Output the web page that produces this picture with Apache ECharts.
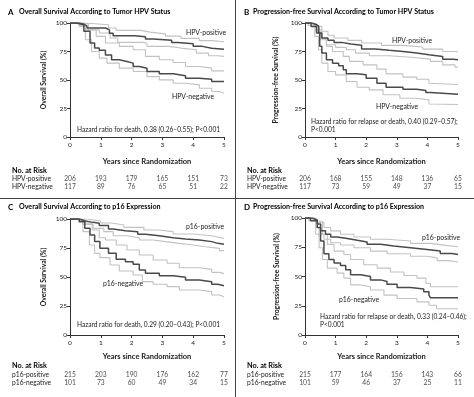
<!DOCTYPE html>
<html>
<head>
<meta charset="utf-8">
<script src="https://cdn.jsdelivr.net/npm/echarts@6/dist/echarts.min.js"></script>
<style>
  html, body { margin: 0; background: #fff; }
  #chart { width: 474px; height: 397px; }
</style>
</head>
<body>
<div id="chart"></div>
<script>
  // 坐标轴刻度
  const xTicks = [0, 1, 2, 3, 4, 5];
  const yTicks = [0, 25, 50, 75, 100];

  // A: Overall survival by tumor HPV status  [years, survival %]
  const osHpvPos = [[0,100],[0.3,99],[0.45,97.5],[0.55,95.6],[1.15,94],[1.28,91],[1.4,88.9],[2.1,88],[2.45,86],[2.7,84.8],[3.3,83],[3.5,81.8],[4.0,79.5],[4.3,77.8],[4.6,77],[5,77]];
  const osHpvPosHi = [[0,100],[0.5,98.5],[1.25,95.6],[1.5,93.5],[2.3,92],[2.6,90.5],[3.1,88.5],[3.6,86.5],[4.2,84.5],[4.6,83.5],[5,83.5]];
  const osHpvPosLo = [[0,100],[0.3,97.7],[0.5,94],[0.95,91.2],[1.3,86.8],[1.55,83],[2.4,82],[2.5,79.5],[3.2,78],[3.6,76.5],[4.1,73.6],[4.5,71.3],[4.8,70.7],[5,70.7]];
  const osHpvNeg = [[0,100],[0.2,98.5],[0.45,92.7],[0.65,82.4],[0.8,78],[0.95,76],[1.15,72],[1.35,67.7],[1.6,66.3],[1.85,64.8],[2.05,61.9],[2.25,60.4],[2.5,57.5],[2.9,55.4],[3.35,53.7],[3.75,51.6],[4.2,50.7],[4.6,48.7],[5,48.7]];
  const osHpvNegHi = [[0,100],[0.3,99.4],[0.6,94],[0.85,88.3],[1.15,82.4],[1.6,79.5],[2.05,76.5],[2.45,70.7],[2.9,67.7],[3.35,65.4],[3.75,61.9],[4.2,60.4],[4.6,58],[5,58]];
  const osHpvNegLo = [[0,100],[0.3,97],[0.5,85.3],[0.7,75],[0.95,69.2],[1.2,64.8],[1.6,60.4],[2.05,57.5],[2.5,53],[2.9,50.1],[3.35,47.2],[3.75,45.7],[4.2,42.8],[4.6,39.9],[4.85,38.4],[5,38.4]];

  // B: Progression-free survival by tumor HPV status
  const pfsHpvPos = [[0,100],[0.22,98.5],[0.38,97],[0.45,91.2],[0.55,86.8],[0.75,84.8],[0.95,83],[1.2,81.5],[1.5,80.4],[1.85,77.1],[2.3,76],[2.75,75],[3.2,73.6],[3.65,72.1],[4.05,70.7],[4.5,68.3],[4.85,67.7],[5,67.7]];
  const pfsHpvPosHi = [[0,100],[0.3,97],[0.55,92.7],[0.75,89.2],[0.95,86.8],[1.4,84.8],[1.85,82.4],[2.5,80.4],[3.2,78.9],[3.85,77.1],[4.5,75],[4.9,74.5],[5,74.5]];
  const pfsHpvPosLo = [[0,100],[0.15,99],[0.35,92.7],[0.5,85.3],[0.7,80.9],[1.0,78.6],[1.35,76.5],[1.65,73.6],[2.1,71.3],[2.75,70],[3.45,68.3],[4.1,66.3],[4.5,63.3],[4.9,61.3],[5,61.3]];
  const pfsHpvNeg = [[0,100],[0.2,97],[0.38,91.2],[0.48,79.5],[0.55,73.6],[0.7,67.7],[0.9,64.8],[1.1,62.5],[1.25,58.9],[1.35,55.4],[1.7,54.5],[2.0,51.6],[2.35,47.2],[2.65,43.7],[3.2,41.9],[3.65,40.8],[3.95,39],[4.1,37.5],[5,37.5]];
  const pfsHpvNegHi = [[0,100],[0.1,99],[0.38,94.1],[0.55,86.8],[0.7,79.5],[0.9,75],[1.25,70.7],[1.45,66.3],[1.9,63.3],[2.35,59.5],[2.65,55.4],[3.2,52.5],[3.65,50.7],[4.05,47.2],[4.1,46],[5,46]];
  const pfsHpvNegLo = [[0,100],[0.1,98],[0.32,88.3],[0.44,76.5],[0.55,64.8],[0.75,57.5],[1.0,54.5],[1.35,48.7],[1.7,43.7],[2.1,41.3],[2.55,37],[3.1,34],[3.65,32.6],[4.05,29],[4.1,28.5],[5,28.5]];

  // C: Overall survival by p16 expression
  const osP16Pos = [[0,100],[0.3,98.3],[0.5,97.1],[0.75,96.3],[0.95,94.3],[1.25,91.4],[1.4,89.9],[1.8,89.1],[2.2,86.8],[2.45,85.6],[2.9,83.9],[3.35,82.8],[3.75,81.9],[4.2,80.5],[4.6,79],[4.8,78.2],[5,78.2]];
  const osP16PosHi = [[0,100],[0.55,98.3],[1.0,96.5],[1.35,94.8],[1.75,92.8],[2.4,90.5],[2.9,89.1],[3.35,87.1],[4.0,85.6],[4.6,83.9],[4.9,83.3],[5,83.3]];
  const osP16PosLo = [[0,100],[0.2,98.3],[0.42,95.4],[0.75,91.9],[1.1,89.1],[1.4,85.6],[1.85,83.9],[2.25,81.9],[2.7,80.5],[3.1,79],[3.55,77.6],[4.0,76.1],[4.4,74.7],[4.85,72.7],[5,72.7]];
  const osP16Neg = [[0,100],[0.3,97.7],[0.48,92],[0.65,86.2],[0.8,80.5],[0.97,74.7],[1.25,70.4],[1.5,65.2],[1.8,63.2],[2.05,60.9],[2.25,56],[2.45,53.2],[2.9,51.1],[3.35,49.7],[3.75,47.4],[4.2,46],[4.6,43.7],[4.8,42.5],[5,42.5]];
  const osP16NegHi = [[0,100],[0.3,99],[0.5,96.3],[0.72,90.5],[0.95,83.9],[1.15,81.9],[1.5,77.6],[1.85,73.3],[2.25,69],[2.7,64.7],[3.15,61.8],[3.55,58],[4.2,56.6],[4.6,54],[4.85,52.9],[5,52.9]];
  const osP16NegLo = [[0,100],[0.2,98.3],[0.42,89.1],[0.63,77.6],[0.8,70.4],[0.97,66.7],[1.3,60.3],[1.6,55.2],[2.05,51.7],[2.35,46],[2.7,43.7],[3.15,41.7],[3.55,38.8],[4.2,37.4],[4.6,34.5],[4.85,33],[5,33]];

  // D: Progression-free survival by p16 expression
  const pfsP16Pos = [[0,100],[0.24,98.3],[0.4,94.8],[0.51,89],[0.67,86.1],[0.84,83.8],[1.05,82.4],[1.38,80.9],[1.71,79.5],[2.03,77.5],[2.47,76],[2.9,74.6],[3.45,73.1],[3.99,71.7],[4.42,69.7],[4.8,68.8],[5,68.8]];
  const pfsP16PosHi = [[0,100],[0.3,97.5],[0.46,96.2],[0.62,91.9],[0.84,89],[1.16,86.1],[1.6,83.8],[2.14,81.8],[2.68,80.3],[3.45,78.3],[4.1,76.6],[4.6,75.4],[5,75.4]];
  const pfsP16PosLo = [[0,100],[0.13,97.7],[0.35,91.9],[0.46,86.1],[0.62,81.8],[0.84,78.9],[1.16,76.9],[1.6,74.6],[2.14,71.7],[2.68,69.4],[3.45,67.3],[3.99,65.9],[4.32,63.6],[4.7,62.4],[5,62.4]];
  const pfsP16Neg = [[0,100],[0.18,97.7],[0.4,91.9],[0.51,80.3],[0.62,69.4],[0.78,64.5],[0.95,61.6],[1.16,59.5],[1.33,55.8],[1.49,51.4],[1.82,50],[2.14,47.1],[2.47,45.7],[2.68,43.4],[3.01,40.5],[3.45,39.3],[3.88,37],[4.05,34.1],[4.1,31.8],[5,31.8]];
  const pfsP16NegHi = [[0,100],[0.13,99],[0.4,96.2],[0.57,86.1],[0.73,77.5],[0.95,71.7],[1.27,68.8],[1.49,64.5],[1.92,60.1],[2.36,57.2],[2.79,53.8],[3.23,50.9],[3.66,48.6],[3.95,44.2],[4.1,41.3],[5,41]];
  const pfsP16NegLo = [[0,100],[0.13,98.3],[0.35,86.1],[0.46,74.6],[0.57,64.5],[0.73,57.2],[1.05,52.9],[1.27,48.6],[1.49,42.8],[1.82,41.3],[2.14,38.4],[2.58,34.1],[3.01,31.2],[3.66,28.3],[4.05,25.4],[4.3,22.5],[5,22.5]];

  // No. at Risk
  const riskHpvOsPos = [206, 193, 179, 165, 151, 73];
  const riskHpvOsNeg = [117, 89, 76, 65, 51, 22];
  const riskHpvPfsPos = [206, 168, 155, 148, 136, 65];
  const riskHpvPfsNeg = [117, 73, 59, 49, 37, 15];
  const riskP16OsPos = [215, 203, 190, 176, 162, 77];
  const riskP16OsNeg = [101, 73, 60, 49, 34, 15];
  const riskP16PfsPos = [215, 177, 164, 156, 143, 66];
  const riskP16PfsNeg = [101, 59, 46, 37, 25, 11];

  const hpvGroups = ['HPV-positive', 'HPV-negative'];
  const p16Groups = ['p16-positive', 'p16-negative'];

  const panels = [
    {
      letter: 'A', title: 'Overall Survival According to Tumor HPV Status',
      yName: 'Overall Survival (%)', groups: hpvGroups,
      curves: [osHpvPosHi, osHpvPosLo, osHpvNegHi, osHpvNegLo, osHpvPos, osHpvNeg],
      risk: [riskHpvOsPos, riskHpvOsNeg],
      hazard: ['Hazard ratio for death, 0.38 (0.26\u20130.55); P<0.001']
    },
    {
      letter: 'B', title: 'Progression-free Survival According to Tumor HPV Status',
      yName: 'Progression-free Survival (%)', groups: hpvGroups,
      curves: [pfsHpvPosHi, pfsHpvPosLo, pfsHpvNegHi, pfsHpvNegLo, pfsHpvPos, pfsHpvNeg],
      risk: [riskHpvPfsPos, riskHpvPfsNeg],
      hazard: ['Hazard ratio for relapse or death, 0.40 (0.29\u20130.57);', 'P<0.001']
    },
    {
      letter: 'C', title: 'Overall Survival According to p16 Expression',
      yName: 'Overall Survival (%)', groups: p16Groups,
      curves: [osP16PosHi, osP16PosLo, osP16NegHi, osP16NegLo, osP16Pos, osP16Neg],
      risk: [riskP16OsPos, riskP16OsNeg],
      hazard: ['Hazard ratio for death, 0.29 (0.20\u20130.43); P<0.001']
    },
    {
      letter: 'D', title: 'Progression-free Survival According to p16 Expression',
      yName: 'Progression-free Survival (%)', groups: p16Groups,
      curves: [pfsP16PosHi, pfsP16PosLo, pfsP16NegHi, pfsP16NegLo, pfsP16Pos, pfsP16Neg],
      risk: [riskP16PfsPos, riskP16PfsNeg],
      hazard: ['Hazard ratio for relapse or death, 0.33 (0.24\u20130.46);', 'P<0.001']
    }
  ];

  // 版面位置
  const layout = [
    { plot: {left: 70, top: 23, width: 154, height: 114}, risk: {left: 70, top: 175, width: 154, height: 16},
      head: [8, 19, 12], riskHead: [12, 171], yGap: 23, xGap: 21,
      labels: [[186, 33], [172, 97]], hazard: [77, 130] },
    { plot: {left: 305, top: 23, width: 153, height: 114}, risk: {left: 305, top: 175, width: 153, height: 16},
      head: [244, 253, 12], riskHead: [247, 171], yGap: 26, xGap: 21,
      labels: [[392, 41], [376, 107]], hazard: [311, 122] },
    { plot: {left: 70, top: 219, width: 154, height: 116}, risk: {left: 70, top: 371, width: 154, height: 16},
      head: [8, 19, 207], riskHead: [12, 366], yGap: 23, xGap: 18,
      labels: [[186, 227], [103, 284]], hazard: [77, 325] },
    { plot: {left: 305, top: 218, width: 153, height: 117}, risk: {left: 305, top: 371, width: 153, height: 16},
      head: [244, 253, 207], riskHead: [247, 366], yGap: 25, xGap: 18,
      labels: [[422, 238], [339, 300]], hazard: [320, 317] }
  ];

  const FONT = 'Lato, "Open Sans", sans-serif';
  const TXT = '#1a1a1a';
  const AXIS = '#333333';
  const LIGHT = '#c2c2c2';
  const DARK = '#4a4a4a';

  const chart = echarts.init(document.getElementById('chart'), null, {renderer: 'canvas'});

  let grid = [], xAxis = [], yAxis = [], series = [], graphic = [];

  // 文字元素
  function label(x, y, text, size, bold) {
    return {
      type: 'text', x: x, y: y, silent: true,
      style: {
        text: text, fontFamily: FONT, fontSize: size, fontWeight: bold ? 'bold' : 'normal',
        fill: bold ? '#000' : TXT, verticalAlign: 'middle', align: 'left'
      }
    };
  }

  panels.forEach((p, i) => {
    const L = layout[i];
    // 生存曲线区
    grid.push(Object.assign({outerBoundsMode: 'none', containLabel: false}, L.plot));
    xAxis.push({
      gridIndex: i * 2, type: 'value', min: 0, max: 5, interval: 1,
      name: 'Years since Randomization', nameLocation: 'middle', nameGap: L.xGap,
      nameTextStyle: {fontFamily: FONT, fontSize: 7.5, fontWeight: 'bold', color: TXT},
      axisLine: {show: true, lineStyle: {color: AXIS, width: 1}},
      axisTick: {show: true, length: 3, lineStyle: {color: AXIS}},
      axisLabel: {fontFamily: FONT, fontSize: 6.5, color: TXT, margin: 4},
      splitLine: {show: false}
    });
    yAxis.push({
      gridIndex: i * 2, type: 'value', min: 0, max: 100, interval: 25,
      name: p.yName, nameLocation: 'middle', nameGap: L.yGap, nameRotate: 90,
      nameTextStyle: {fontFamily: FONT, fontSize: 6.8, fontWeight: 'bold', color: TXT},
      axisLine: {show: true, lineStyle: {color: AXIS, width: 1}},
      axisTick: {show: true, length: 3, lineStyle: {color: AXIS}},
      axisLabel: {fontFamily: FONT, fontSize: 6.5, color: TXT, margin: 3},
      splitLine: {show: false}
    });
    p.curves.forEach((c, k) => {
      const main = k >= 4;
      series.push({
        type: 'line', step: 'end', xAxisIndex: i * 2, yAxisIndex: i * 2,
        data: c, showSymbol: false, silent: true, z: main ? 3 : 2,
        lineStyle: {color: main ? DARK : LIGHT, width: main ? 1.5 : 1.1}
      });
    });

    // No. at Risk 表
    grid.push(Object.assign({outerBoundsMode: 'none', containLabel: false}, L.risk));
    xAxis.push({gridIndex: i * 2 + 1, type: 'value', min: 0, max: 5, show: false});
    yAxis.push({
      gridIndex: i * 2 + 1, type: 'category', data: p.groups, inverse: true,
      axisLine: {show: false}, axisTick: {show: false},
      axisLabel: {interval: 0, hideOverlap: false, fontFamily: FONT, fontSize: 6.7, color: TXT,
        align: 'left', margin: L.risk.left - L.riskHead[0]}
    });
    const pts = [];
    p.risk.forEach((row, r) => {
      row.forEach((n, t) => pts.push([xTicks[t], r, n]));
    });
    series.push({
      type: 'scatter', xAxisIndex: i * 2 + 1, yAxisIndex: i * 2 + 1,
      data: pts, symbolSize: 1, itemStyle: {color: 'rgba(0,0,0,0)'}, silent: true,
      label: {show: true, position: 'inside', formatter: d => d.value[2],
        fontFamily: FONT, fontSize: 6.7, color: TXT}
    });

    graphic.push(label(L.head[0], L.head[2], p.letter, 8, true));
    graphic.push(label(L.head[1], L.head[2], p.title, 7.1, true));
    graphic.push(label(L.riskHead[0], L.riskHead[1], 'No. at Risk', 7.3, true));
    p.groups.forEach((g, k) => {
      graphic.push(label(L.labels[k][0], L.labels[k][1], g, 6.9, false));
    });
    p.hazard.forEach((h, k) => {
      graphic.push(label(L.hazard[0], L.hazard[1] + k * 8, h, 6.6, false));
    });
  });

  // 分隔线
  graphic.push({type: 'line', shape: {x1: 235.5, y1: 0, x2: 235.5, y2: 397}, style: {stroke: '#444', lineWidth: 1}});
  graphic.push({type: 'line', shape: {x1: 0, y1: 198.5, x2: 474, y2: 198.5}, style: {stroke: '#444', lineWidth: 1}});

  chart.setOption({
    animation: false,
    backgroundColor: '#fff',
    grid: grid,
    xAxis: xAxis,
    yAxis: yAxis,
    series: series,
    graphic: graphic
  });

  window.addEventListener('resize', () => {
    chart.resize();
  });
</script>
</body>
</html>
